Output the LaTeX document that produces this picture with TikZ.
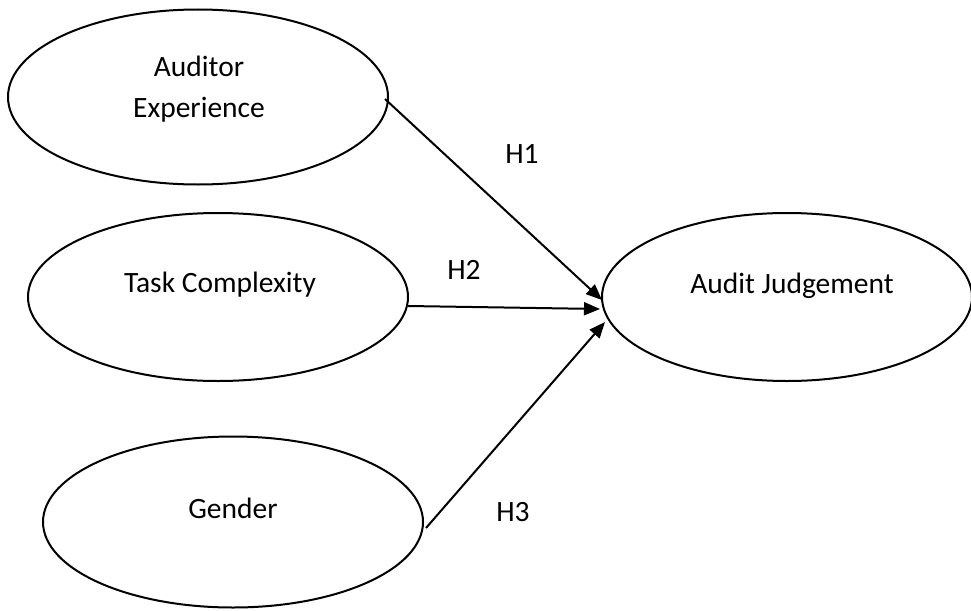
\documentclass[tikz,border=0pt]{standalone}
\usepackage{fontspec}
\setmainfont{Carlito}
\usetikzlibrary{shapes.geometric,arrows.meta,calc}
\begin{document}
\begin{tikzpicture}[x=1pt,y=-1pt,
  oval/.style={draw, ellipse, line width=2pt, inner sep=0pt, outer sep=0pt},
  txt/.style={anchor=base, inner sep=0pt, font=\fontsize{29.5}{35}\selectfont},
  conn/.style={line width=2pt, -{Triangle[length=16pt,width=13pt]}}]
\useasboundingbox (0,0) rectangle (971,610);
\clip (0,0) rectangle (971,610);
\node[oval, minimum width=380pt, minimum height=175pt] (e1) at (198,97) {};
\node[oval, minimum width=380pt, minimum height=168pt] (e2) at (218,297) {};
\node[oval, minimum width=380pt, minimum height=171pt] (e3) at (233,522) {};
\node[oval, minimum width=370pt, minimum height=168pt] (e4) at (787,297) {};
\node[txt] (t1a) at (199,76) {Auditor};
\node[txt] (t1b) at (199,117) {Experience};
\node[txt] (t2) at (220,292) {Task Complexity};
\node[txt] (t3) at (233,518) {Gender};
\node[txt] (t4) at (792,293) {Audit Judgement};
\node[txt] (h1) at (522,163) {H1};
\node[txt] (h2) at (464,279) {H2};
\node[txt] (h3) at (513,521) {H3};
\draw[conn] ($(e1.east)+(-3,2)$) -- ($(e4.west)+(0,3)$);
\draw[conn] ($(e2.east)+(0,9)$) -- ($(e4.west)+(-2,12)$);
\draw[conn] ($(e3.east)+(3,6)$) -- ($(e4.west)+(3,25)$);
\end{tikzpicture}
\end{document}
